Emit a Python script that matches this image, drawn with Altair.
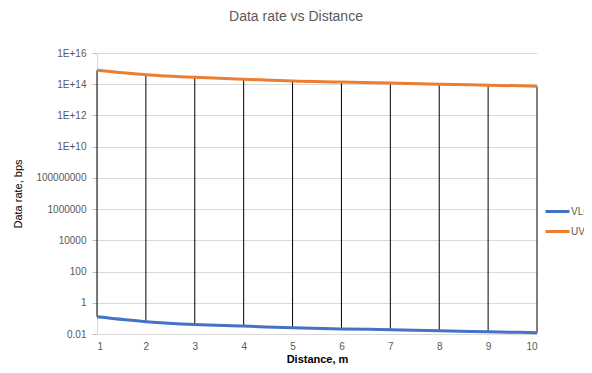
import altair as alt
import pandas as pd

distance = [1, 2, 3, 4, 5, 6, 7, 8, 9, 10]
vlc = [0.128, 0.062, 0.040, 0.032, 0.025, 0.021, 0.019, 0.016, 0.014, 0.012]
uvc = [7.9e14, 4.1e14, 2.75e14, 2.1e14, 1.6e14, 1.4e14, 1.2e14, 1.0e14, 8.7e13, 7.4e13]
series = ["VLC", "UVC"]
colors = ["#4472C4", "#ED7D31"]
y_ticks = [1e-2, 1, 1e2, 1e4, 1e6, 1e8, 1e10, 1e12, 1e14, 1e16]
y_labels = ["0.01", "1", "100", "10000", "1000000", "100000000", "1E+10", "1E+12", "1E+14", "1E+16"]

wide = pd.DataFrame({"Distance": distance, "VLC": vlc, "UVC": uvc})
long = pd.concat([
    pd.DataFrame({"Distance": distance, "Rate": vlc, "Series": "VLC"}),
    pd.DataFrame({"Distance": distance, "Rate": uvc, "Series": "UVC"}),
])

label_arr = "[" + ",".join("'" + s + "'" for s in y_labels) + "]"
font = "Liberation Sans"

x_enc = alt.X("Distance:Q", scale=alt.Scale(domain=[1, 10], nice=False),
              axis=alt.Axis(values=distance, title="Distance, m", grid=False, ticks=False,
                            labelColor="#595959", labelFontSize=10, labelPadding=7,
                            domainColor="#d9d9d9", titleFontWeight="bold", titleFontSize=11,
                            titleColor="#000000", titlePadding=2, labelFont=font, titleFont=font))

y_scale = alt.Scale(type="log", domain=[1e-2, 1e16], nice=False)
y_axis = alt.Axis(values=y_ticks, labelExpr=label_arr + "[round(log(datum.value)/LN10/2)+1]",
                  title="Data rate, bps", gridColor="#d9d9d9", domainColor="#d9d9d9",
                  tickColor="#bfbfbf", tickSize=5, labelColor="#595959", labelFontSize=10,
                  labelPadding=6, titleFontSize=11, titleFontWeight="normal", titleColor="#000000",
                  titlePadding=12, labelFont=font, titleFont=font)

rules = alt.Chart(wide).mark_rule(color="black", strokeWidth=1).encode(
    x=x_enc,
    y=alt.Y("VLC:Q", scale=y_scale, axis=y_axis),
    y2="UVC:Q",
)

lines = alt.Chart(long).mark_line(strokeWidth=3, interpolate="monotone").encode(
    x=alt.X("Distance:Q"),
    y=alt.Y("Rate:Q"),
    color=alt.Color("Series:N", scale=alt.Scale(domain=series, range=colors),
                    legend=alt.Legend(title=None, orient="none", legendX=447, legendY=145,
                                      symbolType="stroke", symbolSize=576, symbolStrokeWidth=3,
                                      labelFontSize=10, labelColor="#595959", rowPadding=-4,
                                      labelOffset=0, labelFont=font)),
)

chart = (rules + lines).properties(
    width=440, height=281,
    autosize=alt.AutoSizeParams(type="none"),
    padding={"left": 89, "top": 45, "right": 47, "bottom": 31},
    title=alt.TitleParams("Data rate vs Distance", fontSize=14, color="#595959",
                          fontWeight="normal", font=font, anchor="middle", dx=-21, offset=24),
).configure_view(stroke=None)

chart.save("out.html", embed_options={"renderer": "svg", "actions": False})
